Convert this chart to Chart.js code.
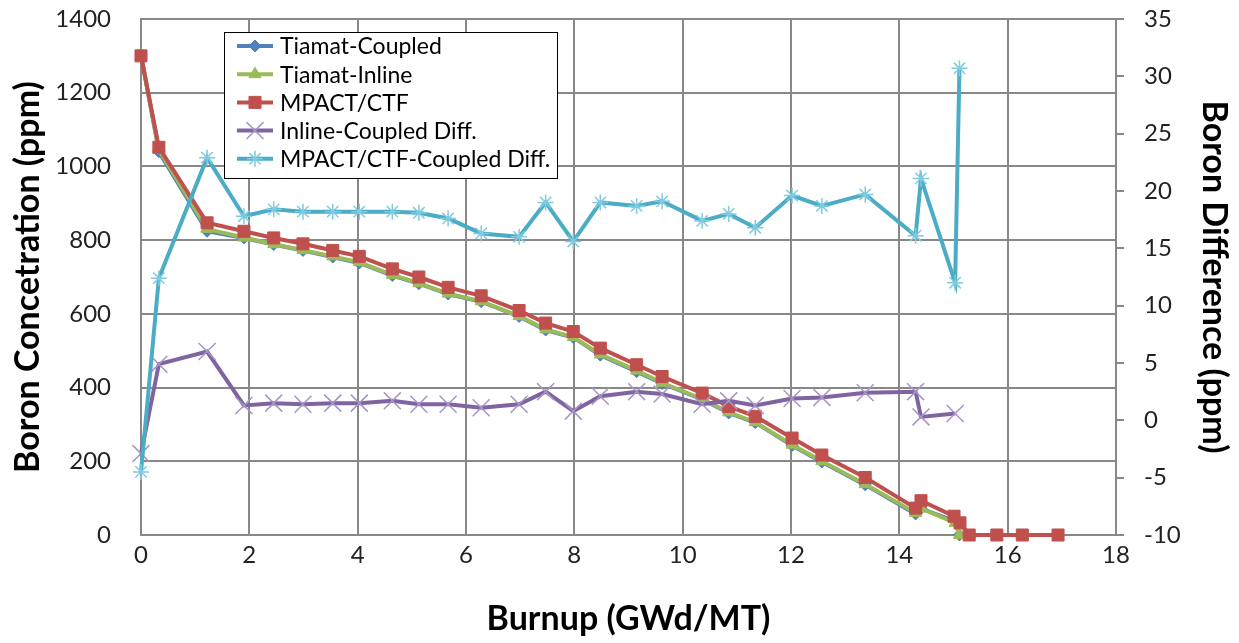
<!DOCTYPE html>
<html>
<head>
<meta charset="utf-8">
<script src="https://cdn.jsdelivr.net/npm/chart.js@4.4.1/dist/chart.umd.min.js"></script>
<style>
  html, body { margin: 0; padding: 0; background: #fff; }
  #wrap { width: 1239px; height: 643px; }
</style>
</head>
<body>
<div id="wrap"><canvas id="boronChart" width="1239" height="643"></canvas></div>
<script>
// Burnup points (GWd/MT) for the Tiamat runs and the diffs
const burnup = [0, 0.33, 1.22, 1.90, 2.45, 2.99, 3.54, 4.03, 4.64, 5.13, 5.67, 6.28, 6.98, 7.47,
  7.98, 8.48, 9.15, 9.62, 10.36, 10.85, 11.34, 12.02, 12.57, 13.37, 14.30, 14.40, 15.03, 15.11];
// MPACT/CTF has a few extra points past the end of the Tiamat runs
const mpactBurnup = [0, 0.33, 1.22, 1.90, 2.45, 2.99, 3.54, 4.03, 4.64, 5.13, 5.67, 6.28, 6.98, 7.47,
  7.98, 8.48, 9.15, 9.62, 10.36, 10.85, 11.34, 12.02, 12.57, 13.37, 14.30, 14.40, 15.01, 15.12,
  15.29, 15.80, 16.27, 16.93];

const tiamatCoupled = [1304, 1040, 824, 806, 788, 772, 754, 738, 704, 682, 654, 633, 593, 556,
  536, 488, 443, 411, 368, 331, 305, 243, 198, 136, 57, 72, 37, 0];
const tiamatInline = [1301, 1045, 830, 807, 789, 773, 756, 740, 706, 683, 655, 634, 594, 558,
  537, 490, 446, 413, 369, 333, 306, 245, 200, 138, 60, 72, 33, 0];
const mpactCtf = [1300, 1052, 847, 824, 806, 790, 772, 756, 722, 700, 672, 649, 609, 575,
  552, 507, 462, 430, 385, 349, 322, 263, 217, 156, 73, 93, 51, 33, 0, 0, 0, 0];
// differences (ppm), right axis
const inlineCoupledDiff = [-2.9, 4.9, 6.0, 1.3, 1.5, 1.4, 1.5, 1.5, 1.7, 1.4, 1.4, 1.1, 1.4, 2.5,
  0.8, 2.1, 2.5, 2.3, 1.4, 1.7, 1.3, 1.9, 2.0, 2.4, 2.5, 0.3, 0.6];
const mpactCoupledDiff = [-4.5, 12.4, 22.9, 17.8, 18.4, 18.2, 18.2, 18.2, 18.2, 18.1, 17.6, 16.3,
  16.0, 19.0, 15.6, 19.0, 18.7, 19.1, 17.4, 18.0, 16.8, 19.6, 18.7, 19.7, 16.1, 21.1, 12.0, 30.7];

const seriesNames = ['Tiamat-Coupled', 'Tiamat-Inline', 'MPACT/CTF',
  'Inline-Coupled Diff.', 'MPACT/CTF-Coupled Diff.'];

function pts(xs, ys) {
  return ys.map((y, i) => ({ x: xs[i], y: y }));
}

const FONT = 'Lato, "Open Sans", sans-serif';
const GRID = '#888888';

// legend box drawn inside the plot like the excel one
const boxLegend = {
  id: 'boxLegend',
  afterDraw(chart) {
    const ctx = chart.ctx;
    const x0 = 224, y0 = 32, w = 333, h = 146;
    ctx.save();
    ctx.fillStyle = '#fff';
    ctx.fillRect(x0, y0, w, h);
    ctx.strokeStyle = '#000';
    ctx.lineWidth = 1;
    ctx.strokeRect(x0 + 0.5, y0 + 0.5, w, h);
    chart.data.datasets.forEach((ds, i) => {
      const cy = 46 + i * 28.2;
      ctx.strokeStyle = ds.borderColor;
      ctx.lineWidth = 4;
      ctx.beginPath();
      ctx.moveTo(237, cy);
      ctx.lineTo(273, cy);
      ctx.stroke();
      ctx.fillStyle = ds.pointBackgroundColor;
      ctx.strokeStyle = ds.pointBorderColor;
      ctx.lineWidth = ds.pointBorderWidth;
      Chart.helpers.drawPoint(ctx, {
        pointStyle: ds.pointStyle, radius: ds.pointRadius, rotation: 0, borderWidth: ds.pointBorderWidth
      }, 255, cy);
      ctx.fillStyle = '#000';
      ctx.font = '23px ' + FONT;
      ctx.textBaseline = 'middle';
      ctx.textAlign = 'left';
      ctx.fillText(ds.label, 280, cy + 1);
    });
    ctx.restore();
  }
};

// keep the plot box where the original has it
function fixVertical(w) {
  return function (scale) {
    scale.width = w;
    scale.paddingTop = 0;
    scale.paddingBottom = 0;
  };
}

const canvas = document.getElementById('boronChart');
new Chart(canvas, {
  type: 'line',
  data: {
    datasets: [
      {
        label: seriesNames[0], data: pts(burnup, tiamatCoupled), yAxisID: 'y',
        borderColor: '#4F81BD', backgroundColor: '#4F81BD', borderWidth: 4,
        pointStyle: 'rectRot', pointRadius: 6, pointBackgroundColor: '#4F81BD',
        pointBorderColor: '#4F81BD', pointBorderWidth: 1, order: 4, clip: false
      },
      {
        label: seriesNames[1], data: pts(burnup, tiamatInline), yAxisID: 'y',
        borderColor: '#9BBB59', backgroundColor: '#9BBB59', borderWidth: 4,
        pointStyle: 'triangle', pointRadius: 7, pointBackgroundColor: '#9BBB59',
        pointBorderColor: '#9BBB59', pointBorderWidth: 1, order: 3, clip: false
      },
      {
        label: seriesNames[2], data: pts(mpactBurnup, mpactCtf), yAxisID: 'y',
        borderColor: '#C0504D', backgroundColor: '#C0504D', borderWidth: 4,
        pointStyle: 'rect', pointRadius: 8.5, pointBackgroundColor: '#C0504D',
        pointBorderColor: '#C0504D', pointBorderWidth: 1, order: 2, clip: false
      },
      {
        label: seriesNames[3], data: pts(burnup, inlineCoupledDiff), yAxisID: 'y1',
        borderColor: '#8064A2', backgroundColor: '#8064A2', borderWidth: 4,
        pointStyle: 'crossRot', pointRadius: 12, pointBackgroundColor: '#A894C6',
        pointBorderColor: '#A894C6', pointBorderWidth: 1.5, order: 1, clip: false
      },
      {
        label: seriesNames[4], data: pts(burnup, mpactCoupledDiff), yAxisID: 'y1',
        borderColor: '#4BACC6', backgroundColor: '#4BACC6', borderWidth: 4,
        pointStyle: 'star', pointRadius: 8, pointBackgroundColor: '#7FCBDF',
        pointBorderColor: '#7FCBDF', pointBorderWidth: 1.5, order: 0, clip: false
      }
    ]
  },
  options: {
    responsive: false,
    animation: false,
    layout: { padding: { top: 19, left: 0, right: 0, bottom: 0 } },
    plugins: {
      legend: { display: false },
      tooltip: { enabled: false }
    },
    elements: { line: { tension: 0 } },
    scales: {
      x: {
        type: 'linear', min: 0, max: 18,
        ticks: { stepSize: 2, color: '#222', padding: 6, font: { family: FONT, size: 24 } },
        grid: { color: GRID, lineWidth: 2, drawTicks: false },
        border: { color: GRID, width: 2 },
        title: {
          display: true, text: 'Burnup (GWd/MT)', color: '#000',
          font: { family: FONT, size: 34, weight: 'bold' }, padding: { top: 0, bottom: 4 }
        },
        afterFit(scale) {
          scale.height = 108;
          scale.paddingLeft = 0;
          scale.paddingRight = 0;
        }
      },
      y: {
        position: 'left', min: 0, max: 1400,
        ticks: {
          stepSize: 200, color: '#222', padding: 30, font: { family: FONT, size: 24 },
          callback: (v) => String(v)
        },
        grid: { color: GRID, lineWidth: 2, drawTicks: false },
        border: { color: GRID, width: 2 },
        title: {
          display: true, text: 'Boron Concetration (ppm)', color: '#000',
          font: { family: FONT, size: 34, weight: 'bold' }, padding: { top: 8, bottom: 0 }
        },
        afterFit: fixVertical(141)
      },
      y1: {
        position: 'right', min: -10, max: 35,
        ticks: { stepSize: 5, color: '#222', padding: 20, font: { family: FONT, size: 24 } },
        grid: { color: GRID, lineWidth: 2, drawOnChartArea: false, drawTicks: true, tickLength: 8 },
        border: { color: GRID, width: 2 },
        title: {
          display: true, text: 'Boron Difference (ppm)', color: '#000',
          font: { family: FONT, size: 34, weight: 'bold' }, padding: { top: 5, bottom: 0 }
        },
        afterFit: fixVertical(123)
      }
    }
  },
  plugins: [boxLegend]
});
</script>
</body>
</html>
